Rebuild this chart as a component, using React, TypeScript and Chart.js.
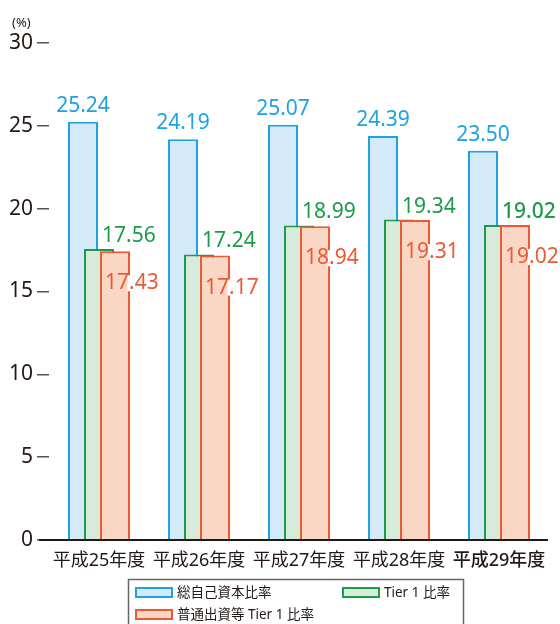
import React, { useEffect, useRef } from "react";
import { Chart, registerables } from "chart.js";

Chart.register(...registerables);

const categories = ["平成25年度", "平成26年度", "平成27年度", "平成28年度", "平成29年度"];
const seriesNames = ["総自己資本比率", "Tier 1 比率", "普通出資等 Tier 1 比率"];
const totalRatio = [25.24, 24.19, 25.07, 24.39, 23.5];
const tier1Ratio = [17.56, 17.24, 18.99, 19.34, 19.02];
const cet1Ratio = [17.43, 17.17, 18.94, 19.31, 19.02];
const yTicks = [0, 5, 10, 15, 20, 25, 30];

const borderColors = ["#1ea2e2", "#1c9b4a", "#eb5a35"];
const fillColors = ["#d4eaf8", "#d6ebda", "#fad7c5"];
const FONT = '"Noto Sans", "Noto Sans CJK JP", sans-serif';
const INK = "#231815";

const drawOrderPlugin = {
  id: "drawOrder",
  beforeDatasetsDraw(chart: any) {
    const n = chart.data.datasets.length;
    for (let i = 0; i < n; i++) {
      chart._drawDataset(chart.getDatasetMeta(i));
    }
    return false;
  },
};

const labelPlugin = {
  id: "valueLabels",
  afterDraw(chart: any) {
    const ctx = chart.ctx;
    const y = chart.scales.y;
    ctx.save();
    ctx.strokeStyle = INK;
    ctx.lineWidth = 2;
    ctx.beginPath();
    const y0 = y.getPixelForValue(0);
    ctx.moveTo(39, y0);
    ctx.lineTo(548, y0);
    ctx.stroke();

    chart.data.datasets.forEach((ds: any, di: number) => {
      const meta = chart.getDatasetMeta(di);
      meta.data.forEach((bar: any, i: number) => {
        const v = ds.data[i];
        const txt = v.toFixed(2);
        const strong = i === 4 && di === 1;
        ctx.font = `${strong ? "500 " : ""}21px ${FONT}`;
        ctx.fillStyle = borderColors[di];
        if (di === 0) {
          ctx.textAlign = "center";
          ctx.textBaseline = "alphabetic";
          ctx.fillText(txt, bar.x, bar.y - 10);
        } else if (di === 1) {
          ctx.textAlign = "left";
          ctx.textBaseline = "alphabetic";
          ctx.fillText(txt, bar.x + 3, bar.y - 7);
        } else {
          const right = bar.x + bar.width / 2;
          const ty = bar.y + 32;
          ctx.fillStyle = "#ffffff";
          ctx.fillRect(right - 2.5, ty - 8, 3, 16);
          ctx.fillStyle = borderColors[di];
          ctx.textAlign = "left";
          ctx.textBaseline = "middle";
          ctx.fillText(txt, bar.x - bar.width / 2 + 5, ty);
        }
      });
    });

    ctx.font = `13px ${FONT}`;
    ctx.fillStyle = INK;
    ctx.textAlign = "left";
    ctx.textBaseline = "middle";
    ctx.fillText("(%)", 12, 23);

    ctx.strokeStyle = "#666";
    ctx.lineWidth = 1.5;
    ctx.strokeRect(128.5, 579.5, 335, 60);
    const pos = [
      [135, 587],
      [342, 587],
      [135, 609],
    ];
    ctx.font = `13.5px ${FONT}`;
    chart.data.datasets.forEach((ds: any, di: number) => {
      const [lx, ly] = pos[di];
      ctx.fillStyle = ds.backgroundColor;
      ctx.fillRect(lx, ly, 38, 11);
      ctx.strokeStyle = ds.borderColor;
      ctx.lineWidth = 2;
      ctx.strokeRect(lx + 1, ly + 1, 36, 9);
      ctx.fillStyle = INK;
      ctx.textAlign = "left";
      ctx.textBaseline = "middle";
      ctx.fillText(ds.label, lx + 42, ly + 6);
    });
    ctx.restore();
  },
};

export default function App() {
  const ref = useRef<HTMLCanvasElement>(null);
  useEffect(() => {
    if (!ref.current) return;
    const values = [totalRatio, tier1Ratio, cet1Ratio];
    const chart = new Chart(ref.current, {
      type: "bar",
      data: {
        labels: categories,
        datasets: values.map((d, i) => ({
          label: seriesNames[i],
          data: d,
          backgroundColor: fillColors[i],
          borderColor: borderColors[i],
          borderWidth: 2,
          categoryPercentage: 0.48,
          barPercentage: 1.875,
        })),
      },
      options: {
        responsive: false,
        animation: false,
        layout: { padding: { top: 43, right: 11, left: 0, bottom: 0 } },
        plugins: {
          legend: { display: false },
          tooltip: { enabled: false },
        },
        scales: {
          x: {
            grid: { display: false },
            border: { display: false },
            ticks: {
              color: INK,
              padding: 2,
              maxRotation: 0,
              font: (c: any) => ({ family: FONT, size: 18, weight: c.index === 4 ? "500" : "normal" }),
            },
            afterFit: (s: any) => {
              s.height = 84;
            },
          },
          y: {
            min: 0,
            max: 30,
            afterBuildTicks: (s: any) => {
              s.ticks = yTicks.map((v) => ({ value: v }));
            },
            grid: {
              drawOnChartArea: false,
              drawTicks: true,
              tickLength: 12,
              color: "#555",
              lineWidth: 1.5,
            },
            border: { display: false },
            ticks: {
              color: INK,
              padding: 4,
              font: { family: FONT, size: 21 },
            },
            afterFit: (s: any) => {
              s.width = 49;
            },
          },
        },
      },
      plugins: [drawOrderPlugin, labelPlugin],
    });
    return () => chart.destroy();
  }, []);
  return (
    <div style={{ position: "absolute", left: 0, top: 0, width: 560, height: 624, background: "#fff" }}>
      <canvas ref={ref} width={560} height={624} style={{ display: "block" }} />
    </div>
  );
}
